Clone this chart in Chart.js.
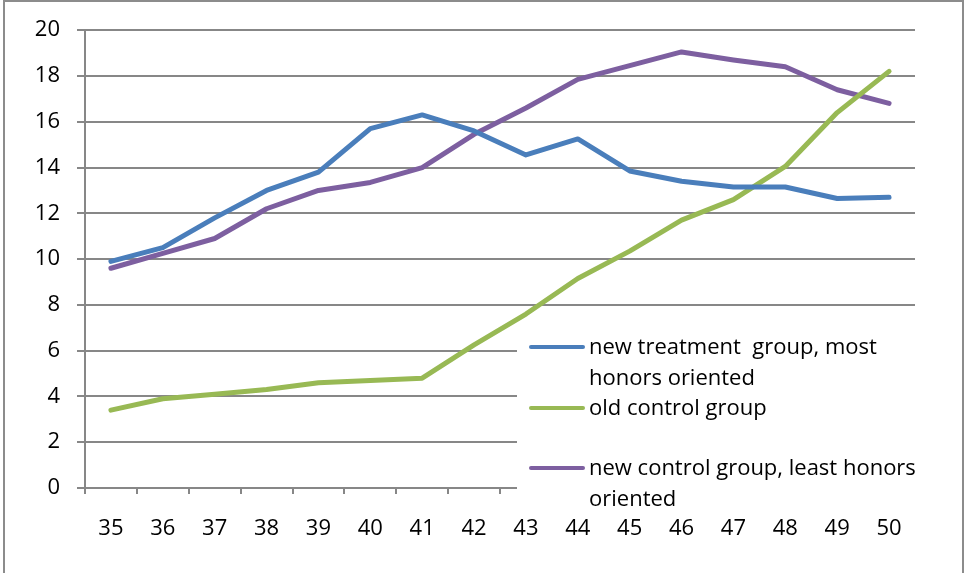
<!DOCTYPE html>
<html>
<head>
<meta charset="utf-8">
<script src="https://cdn.jsdelivr.net/npm/chart.js@4.4.0/dist/chart.umd.min.js"></script>
<style>
  html, body { margin: 0; padding: 0; background: #fff; }
  #wrap { position: relative; width: 965px; height: 573px; }
</style>
</head>
<body>
<div id="wrap"><canvas id="myChart" width="965" height="573"></canvas></div>
<script>
// data
var ages = ['35','36','37','38','39','40','41','42','43','44','45','46','47','48','49','50']
var newTreatment = [9.9, 10.5, 11.8, 13.0, 13.8, 15.7, 16.3, 15.6, 14.55, 15.25, 13.85, 13.4, 13.15, 13.15, 12.65, 12.7]
var oldControl = [3.4, 3.9, 4.1, 4.3, 4.6, 4.7, 4.8, 6.25, 7.6, 9.15, 10.35, 11.7, 12.6, 14.05, 16.4, 18.2]
var newControl = [9.6, 10.25, 10.9, 12.2, 13.0, 13.35, 14.0, 15.45, 16.6, 17.85, 18.45, 19.05, 18.7, 18.4, 17.4, 16.8]
var yTicks = [0, 2, 4, 6, 8, 10, 12, 14, 16, 18, 20]

var seriesNames = [
    ['new treatment  group, most', 'honors oriented'],
    ['old control group'],
    ['new control group, least honors', 'oriented']
]

var gridGrey = '#878787'
var fontFam = '"Open Sans", Lato, sans-serif'
var fontSize = 22

// excel-like legend box sitting over the lower right of the plot
var boxLegend = {
    id: 'boxLegend',
    afterDraw: function(chart) {
        var ctx = chart.ctx
        ctx.save()
        ctx.fillStyle = '#fff'
        ctx.fillRect(517, 326, 430, 190)
        var rows = [347, 408, 468]
        ctx.font = fontSize + 'px ' + fontFam
        ctx.textBaseline = 'middle'
        ctx.fillStyle = '#000'
        chart.data.datasets.forEach(function(ds, i) {
            ctx.strokeStyle = ds.borderColor
            ctx.lineWidth = 4
            ctx.lineCap = 'round'
            ctx.beginPath()
            ctx.moveTo(531, rows[i])
            ctx.lineTo(583, rows[i])
            ctx.stroke()
            ds.label.forEach(function(line, j) {
                ctx.fillText(line, 589, rows[i] + 1 + j * 31)
            })
        })
        ctx.restore()
    }
}

var border = {
    id: 'border',
    beforeDraw: function(chart) {
        var ctx = chart.ctx
        ctx.save()
        ctx.fillStyle = '#fff'
        ctx.fillRect(0, 0, 965, 573)
        ctx.strokeStyle = '#8c8c8c'
        ctx.lineWidth = 2
        ctx.strokeRect(4, 1, 959, 580)
        ctx.restore()
    }
}

var ctx = document.getElementById('myChart').getContext('2d')
var chart = new Chart(ctx, {
    type: 'line',
    data: {
        labels: ages,
        datasets: [{
            label: seriesNames[0],
            borderColor: '#4a7ebb',
            data: newTreatment
        }, {
            label: seriesNames[1],
            borderColor: '#98b954',
            data: oldControl
        }, {
            label: seriesNames[2],
            borderColor: '#7d5fa0',
            data: newControl
        }]
    },
    options: {
        responsive: false,
        animation: false,
        devicePixelRatio: 1,
        layout: { padding: { left: 0, top: 29, right: 50, bottom: 0 } },
        elements: {
            line: { borderWidth: 5, tension: 0, borderCapStyle: 'round', borderJoinStyle: 'round' },
            point: { radius: 0 }
        },
        plugins: {
            legend: { display: false },
            tooltip: { enabled: false }
        },
        scales: {
            x: {
                offset: true,
                afterFit: function(s) { s.height = 85 },
                grid: { offset: true, drawOnChartArea: false, color: gridGrey, lineWidth: 2, tickLength: 6 },
                border: { color: gridGrey, width: 2 },
                ticks: { color: '#000', font: { family: fontFam, size: fontSize }, padding: 22, maxRotation: 0 }
            },
            y: {
                min: 0,
                max: 20,
                afterFit: function(s) { s.width = 85 },
                afterBuildTicks: function(s) { s.ticks = yTicks.map(function(v) { return { value: v } }) },
                grid: { color: gridGrey, lineWidth: 2, tickLength: 8 },
                border: { color: gridGrey, width: 2 },
                ticks: { color: '#000', font: { family: fontFam, size: fontSize }, padding: 17 }
            }
        }
    },
    plugins: [border, boxLegend]
})
</script>
</body>
</html>
